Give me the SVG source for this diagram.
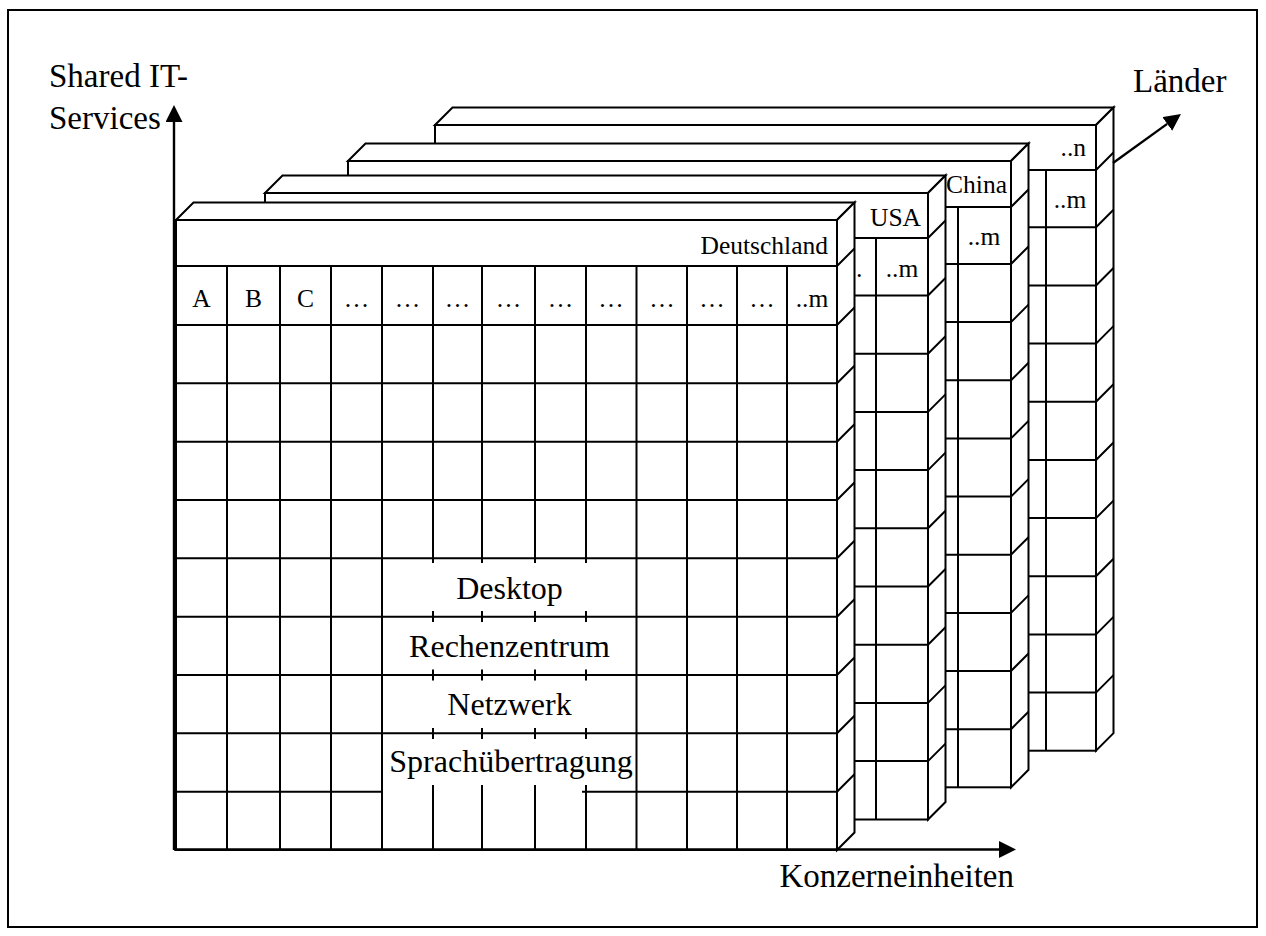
<svg xmlns="http://www.w3.org/2000/svg" width="1266" height="936" viewBox="0 0 1266 936">
<defs>
<style>
.face{fill:#fff;stroke:#000;stroke-width:2;stroke-linejoin:miter}
.ln{fill:none;stroke:#000;stroke-width:2}
.ax{fill:none;stroke:#000;stroke-width:2.4}
text{font-family:"Liberation Serif","Times New Roman",serif;fill:#000}
.big{font-size:33px}
.mid{font-size:32px;text-anchor:middle}
.sm{font-size:25.5px}
.c{text-anchor:middle}
.e{text-anchor:end}
</style>
<marker id="arr" viewBox="0 0 17 17" markerWidth="17" markerHeight="17" markerUnits="userSpaceOnUse" refX="0" refY="8.5" orient="auto">
<path d="M0,0 L17,8.5 L0,17 z" fill="#000"/>
</marker>
</defs>
<rect x="0" y="0" width="1266" height="936" fill="#fff"/>
<rect id="frame" x="8" y="10" width="1249" height="917" fill="none" stroke="#000" stroke-width="2"/>

<g id="layer-n">
<polygon class="face" points="435,125 452.5,107.5 1113.5,107.5 1096,125"/>
<rect class="face" x="435" y="125" width="661" height="625.7"/>
<polygon class="face" points="1096,125 1113.5,107.5 1113.5,733.2 1096,750.7"/>
<path class="ln" d="M435 170H1096M435 227.3H1096M435 285.5H1096M435 343.6H1096M435 401.8H1096M435 460H1096M435 518.1H1096M435 576.3H1096M435 634.4H1096M435 692.6H1096M1046 170V750.7M1096 170l17.5 -17.5M1096 227.3l17.5 -17.5M1096 285.5l17.5 -17.5M1096 343.6l17.5 -17.5M1096 401.8l17.5 -17.5M1096 460l17.5 -17.5M1096 518.1l17.5 -17.5M1096 576.3l17.5 -17.5M1096 634.4l17.5 -17.5M1096 692.6l17.5 -17.5"/>
<text class="sm e" x="1086" y="156">..n</text>
<text class="sm c" x="1070" y="208">..m</text>
</g>

<g id="layer-china">
<polygon class="face" points="348,161 365.5,143.5 1028.5,143.5 1011,161"/>
<rect class="face" x="348" y="161" width="663" height="626.3"/>
<polygon class="face" points="1011,161 1028.5,143.5 1028.5,769.8 1011,787.3"/>
<path class="ln" d="M348 207H1011M348 264H1011M348 322.1H1011M348 380.3H1011M348 438.4H1011M348 496.6H1011M348 554.7H1011M348 612.9H1011M348 671H1011M348 729.2H1011M958 207V787.3M1011 207l17.5 -17.5M1011 264l17.5 -17.5M1011 322.1l17.5 -17.5M1011 380.3l17.5 -17.5M1011 438.4l17.5 -17.5M1011 496.6l17.5 -17.5M1011 554.7l17.5 -17.5M1011 612.9l17.5 -17.5M1011 671l17.5 -17.5M1011 729.2l17.5 -17.5"/>
<text class="sm e" x="1007" y="193">China</text>
<text class="sm c" x="984" y="245">..m</text>
</g>

<g id="layer-usa">
<polygon class="face" points="265,193 282.5,175.5 945.5,175.5 928,193"/>
<rect class="face" x="265" y="193" width="663" height="626.5"/>
<polygon class="face" points="928,193 945.5,175.5 945.5,802 928,819.5"/>
<path class="ln" d="M265 238H928M265 295.5H928M265 353.7H928M265 411.9H928M265 470.1H928M265 528.3H928M265 586.5H928M265 644.7H928M265 702.9H928M265 761.1H928M876 238V819.5M928 238l17.5 -17.5M928 295.5l17.5 -17.5M928 353.7l17.5 -17.5M928 411.9l17.5 -17.5M928 470.1l17.5 -17.5M928 528.3l17.5 -17.5M928 586.5l17.5 -17.5M928 644.7l17.5 -17.5M928 702.9l17.5 -17.5M928 761.1l17.5 -17.5"/>
<text class="sm e" x="921" y="226">USA</text>
<text class="sm" x="856" y="277">.</text>
<text class="sm c" x="902" y="277">..m</text>
</g>

<g id="layer-deutschland">
<polygon class="face" points="176,220 193.5,202.5 854.5,202.5 837,220"/>
<rect class="face" x="176" y="220" width="661" height="630"/>
<polygon class="face" points="837,220 854.5,202.5 854.5,832.5 837,850"/>
<path class="ln" d="M176 266H837M176 325H837M176 383.3H837M176 441.7H837M176 500H837M176 558.3H837M176 616.7H837M176 675H837M176 733.3H837M176 791.7H382M582 791.7H837"/>
<path class="ln" d="M227 266V850M280 266V850M331 266V850M382 266V850M636.5 266V850M687 266V850M737 266V850M787 266V850"/>
<path class="ln" d="M433 266V563M482 266V563M535 266V563M586 266V563M433 611V622M482 611V622M535 611V622M586 611V622M433 669.5V680.5M482 669.5V680.5M535 669.5V680.5M586 669.5V680.5M433 728V739M482 728V739M535 728V739M586 728V739M433 785V850M482 785V850M535 785V850M586 785V850"/>
<path class="ln" d="M837 266l17.5 -17.5M837 325l17.5 -17.5M837 383.3l17.5 -17.5M837 441.7l17.5 -17.5M837 500l17.5 -17.5M837 558.3l17.5 -17.5M837 616.7l17.5 -17.5M837 675l17.5 -17.5M837 733.3l17.5 -17.5M837 791.7l17.5 -17.5"/>
<text class="sm e" x="828" y="254">Deutschland</text>
<text class="sm c" x="201.5" y="307">A</text>
<text class="sm c" x="253.5" y="307">B</text>
<text class="sm c" x="305.5" y="307">C</text>
<text class="sm c" x="356.5" y="307">…</text>
<text class="sm c" x="407.5" y="307">…</text>
<text class="sm c" x="457.5" y="307">…</text>
<text class="sm c" x="508.5" y="307">…</text>
<text class="sm c" x="560.5" y="307">…</text>
<text class="sm c" x="611" y="307">…</text>
<text class="sm c" x="662" y="307">…</text>
<text class="sm c" x="712" y="307">…</text>
<text class="sm c" x="762" y="307">…</text>
<text class="sm c" x="812" y="307">..m</text>
<text class="mid" x="509.5" y="599">Desktop</text>
<text class="mid" x="509.5" y="657">Rechenzentrum</text>
<text class="mid" x="509.5" y="715">Netzwerk</text>
<text class="mid" x="511" y="772">Sprachübertragung</text>
</g>

<g id="connectors">
<path class="ax" d="M174 850V122" marker-end="url(#arr)"/>
<path class="ax" d="M174 849.5H999" marker-end="url(#arr)"/>
<path class="ax" d="M1113 163L1167.2 123.9" marker-end="url(#arr)"/>
</g>

<g id="label-y">
<text class="big" x="49" y="87">Shared IT-</text>
<text class="big" x="49" y="129">Services</text>
</g>
<g id="label-x">
<text class="big e" x="1014" y="887">Konzerneinheiten</text>
</g>
<g id="label-z">
<text class="big" x="1133" y="92">Länder</text>
</g>
</svg>
